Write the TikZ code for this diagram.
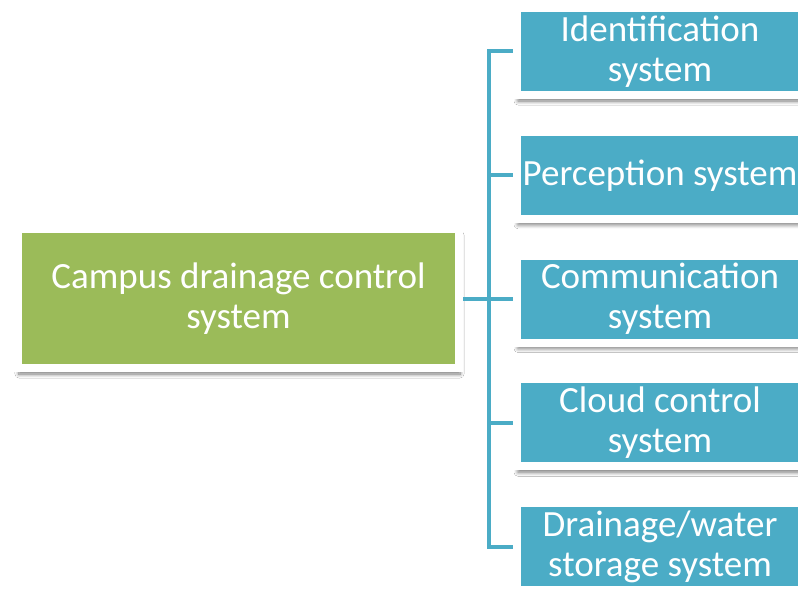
\documentclass[tikz,border=0pt]{standalone}
\usepackage{fontspec}
\setmainfont{Carlito}
\usetikzlibrary{shadows.blur}
\definecolor{leafgreen}{HTML}{9BBB59}
\definecolor{waterblue}{HTML}{4BACC6}
\tikzset{
  card/.style={draw=white, line width=8pt, text=white, align=center,
    font=\fontsize{37}{40}\selectfont,
    blur shadow={shadow xshift=1pt, shadow yshift=-6pt, shadow opacity=55,
      shadow blur radius=4pt, shadow blur steps=8}},
  rootcard/.style={card, fill=leafgreen, minimum width=441pt, minimum height=139pt},
  subcard/.style={card, fill=waterblue, minimum width=286pt, minimum height=87pt},
  link/.style={draw=waterblue, line width=4pt}
}
\begin{document}
\begin{tikzpicture}[x=1pt,y=1pt]
\useasboundingbox (0,0) rectangle (798,-591);
\fill[white] (0,0) rectangle (798,-591);

% root on the left
\node[rootcard] (root) at (238.5,-298.5) {Campus drainage control\\system};

% the five parts, top to bottom
\node[subcard] (ident) at (660,-51.5)   {Identification\\system};
\node[subcard] (perc)  at (660,-175.25) {Perception system};
\node[subcard] (comm)  at (660,-299)    {Communication\\system};
\node[subcard] (cloud) at (660,-422.75) {Cloud control\\system};
\node[subcard] (drain) at (660,-546.5)  {Drainage/water\\storage system};

% connectors
\coordinate (hub) at (489,-298.5);
\draw[link] (root.east) -- (hub);
\foreach \part in {ident,perc,comm,cloud,drain}
  \draw[link] (hub) |- (\part.west);
\end{tikzpicture}
\end{document}
